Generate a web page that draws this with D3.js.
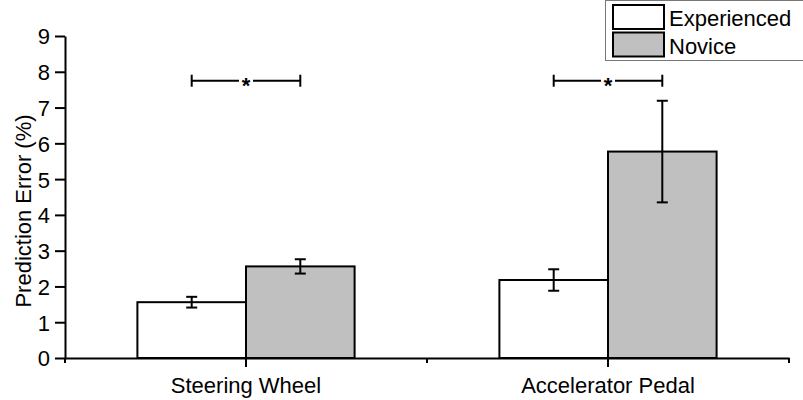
<!DOCTYPE html>
<html lang="en">
<head>
  <meta charset="UTF-8">
  <title>Prediction Error</title>
  <script src="https://d3js.org/d3.v7.min.js"></script>
  <style>
    body {
      margin: 0;
      background: #fff;
      font-family: "Liberation Sans", Arial, sans-serif;
    }
    svg text {
      fill: #000;
    }
    .axis path, .axis line {
      stroke: #000;
      stroke-width: 2px;
    }
    .axis text {
      font-size: 22px;
      font-family: "Liberation Sans", Arial, sans-serif;
    }
  </style>
</head>
<body>
<svg width="803" height="400"></svg>
<script>
  // Data
  const categories = ["Steering Wheel", "Accelerator Pedal"];
  const groups = ["Experienced", "Novice"];
  const experienced = [1.56, 2.18];
  const experiencedErr = [0.15, 0.30];
  const novice = [2.56, 5.77];
  const noviceErr = [0.20, 1.42];
  const significance = [7.75, 7.75];   // bracket height for each category
  const yTicks = [0, 1, 2, 3, 4, 5, 6, 7, 8, 9];

  const colors = {Experienced: "#ffffff", Novice: "#c0c0c0"};

  const svg = d3.select("svg");
  const plotLeft = 65, plotRight = 789, plotTop = 36, plotBottom = 358;

  const y = d3.scaleLinear().domain([0, 9]).range([plotBottom, plotTop]);
  const x0 = d3.scaleBand().domain(categories).range([plotLeft, plotRight]).padding(0);
  const barsWidth = x0.bandwidth() * 0.6;
  const x1 = d3.scaleBand().domain(groups)
    .range([(x0.bandwidth() - barsWidth) / 2, (x0.bandwidth() + barsWidth) / 2]);

  // Build rows for bars
  const rows = [];
  categories.forEach((c, i) => {
    rows.push({cat: c, group: "Experienced", value: experienced[i], err: experiencedErr[i]});
    rows.push({cat: c, group: "Novice", value: novice[i], err: noviceErr[i]});
  });

  // Bars
  svg.append("g")
    .selectAll("rect")
    .data(rows)
    .join("rect")
    .attr("x", d => x0(d.cat) + x1(d.group))
    .attr("y", d => y(d.value))
    .attr("width", x1.bandwidth())
    .attr("height", d => y(0) - y(d.value))
    .attr("fill", d => colors[d.group])
    .attr("stroke", "#000")
    .attr("stroke-width", 2);

  // Error bars
  const cap = 5.5;
  const err = svg.append("g")
    .attr("stroke", "#000")
    .attr("stroke-width", 2)
    .selectAll("g")
    .data(rows)
    .join("g")
    .attr("transform", d => `translate(${x0(d.cat) + x1(d.group) + x1.bandwidth() / 2},0)`);
  err.append("line")
    .attr("y1", d => y(d.value - d.err))
    .attr("y2", d => y(d.value + d.err));
  err.append("line")
    .attr("x1", -cap).attr("x2", cap)
    .attr("y1", d => y(d.value + d.err))
    .attr("y2", d => y(d.value + d.err));
  err.append("line")
    .attr("x1", -cap).attr("x2", cap)
    .attr("y1", d => y(d.value - d.err))
    .attr("y2", d => y(d.value - d.err));

  // Y axis
  svg.append("g")
    .attr("class", "axis")
    .attr("transform", `translate(${plotLeft},0)`)
    .call(d3.axisLeft(y).tickValues(yTicks).tickSize(10).tickSizeOuter(0).tickPadding(5))
    .call(g => g.selectAll("text").attr("dy", "0.36em"));

  // X axis
  const xAxis = svg.append("g")
    .attr("class", "axis")
    .attr("transform", `translate(0,${plotBottom})`)
    .call(d3.axisBottom(x0).tickSize(9).tickSizeOuter(0).tickPadding(4));
  xAxis.selectAll(".tick text").attr("dy", "1em");
  // small ticks on category boundaries
  const bounds = categories.map(c => x0(c)).concat([x0.range()[1]]);
  xAxis.selectAll(".bound")
    .data(bounds)
    .join("line")
    .attr("class", "bound")
    .attr("x1", d => d).attr("x2", d => d)
    .attr("y1", 0).attr("y2", 5);

  // Y axis title
  svg.append("text")
    .attr("transform", `translate(31,${(plotTop + plotBottom) / 2 + 14}) rotate(-90)`)
    .attr("text-anchor", "middle")
    .style("font-size", "22px")
    .text("Prediction Error (%)");

  // Significance brackets
  const br = svg.append("g")
    .selectAll("g")
    .data(categories)
    .join("g");
  const bx1 = c => x0(c) + x1("Experienced") + x1.bandwidth() / 2;
  const bx2 = c => x0(c) + x1("Novice") + x1.bandwidth() / 2;
  const byv = (c, i) => y(significance[i]);
  const gap = 7;
  br.append("line")
    .attr("x1", bx1).attr("x2", c => (bx1(c) + bx2(c)) / 2 - gap)
    .attr("y1", byv).attr("y2", byv);
  br.append("line")
    .attr("x1", c => (bx1(c) + bx2(c)) / 2 + gap).attr("x2", bx2)
    .attr("y1", byv).attr("y2", byv);
  br.append("line")
    .attr("x1", bx1).attr("x2", bx1)
    .attr("y1", (c, i) => byv(c, i) - 6).attr("y2", (c, i) => byv(c, i) + 6);
  br.append("line")
    .attr("x1", bx2).attr("x2", bx2)
    .attr("y1", (c, i) => byv(c, i) - 6).attr("y2", (c, i) => byv(c, i) + 6);
  br.selectAll("line")
    .attr("stroke", "#000")
    .attr("stroke-width", 2);
  br.append("text")
    .attr("x", c => (bx1(c) + bx2(c)) / 2)
    .attr("y", (c, i) => byv(c, i) + 12)
    .attr("text-anchor", "middle")
    .style("font-size", "22px")
    .style("font-weight", "bold")
    .text("*");

  // Legend
  const legend = svg.append("g");
  legend.append("rect")
    .attr("x", 605.5).attr("y", 0.5)
    .attr("width", 210).attr("height", 60)
    .attr("fill", "#fff")
    .attr("stroke", "#777")
    .attr("stroke-width", 1);
  const item = legend.selectAll("g")
    .data(groups)
    .join("g")
    .attr("transform", (d, i) => `translate(613,${5 + i * 27.5})`);
  item.append("rect")
    .attr("width", 51).attr("height", 24)
    .attr("fill", d => colors[d])
    .attr("stroke", "#000")
    .attr("stroke-width", 2);
  item.append("text")
    .attr("x", 56)
    .attr("y", 21)
    .style("font-size", "22px")
    .text(d => d);
</script>
</body>
</html>
